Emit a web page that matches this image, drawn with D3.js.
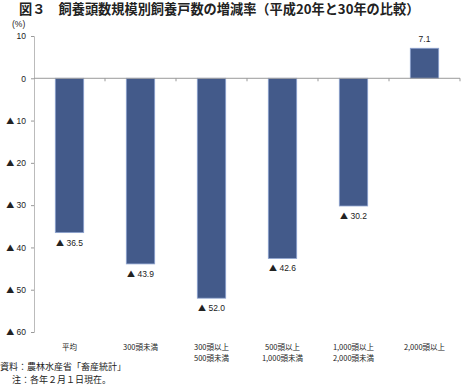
<!DOCTYPE html>
<html>
<head>
<meta charset="utf-8">
<script src="https://cdn.jsdelivr.net/npm/d3@7"></script>
<style>
  body { margin: 0; background: #fff; }
  svg { font-family: "Noto Sans CJK JP", "Noto Sans", sans-serif; }
</style>
</head>
<body>
<div class="chart-container"></div>
<script>
// categories (two lines each) and values (%)
const categories = [
    ['平均'],
    ['300頭未満'],
    ['300頭以上', '500頭未満'],
    ['500頭以上', '1,000頭未満'],
    ['1,000頭以上', '2,000頭未満'],
    ['2,000頭以上']
];
const values = [-36.5, -43.9, -52.0, -42.6, -30.2, 7.1];
const yTicks = [10, 0, -10, -20, -30, -40, -50, -60];

const W = 461, H = 385;
const plot = { left: 34, right: 460, top: 36, bottom: 332 };

const svg = d3.select('.chart-container')
    .append('svg')
    .attr('width', W)
    .attr('height', H);

const numFont = '"Liberation Sans", Arial, sans-serif';
const triFont = '"Noto Sans CJK JP", sans-serif';

const x = d3.scaleBand()
    .domain(d3.range(categories.length))
    .range([plot.left, plot.right])
    .paddingInner(0.6)
    .paddingOuter(0.3);

const y = d3.scaleLinear()
    .domain([-60, 10])
    .range([plot.bottom, plot.top]);

// writes "▲ 36.5" style text: triangle in CJK font, number in sans
function signed(sel, v, digits) {
    const n = digits ? d3.format('.1f')(Math.abs(v)) : String(Math.abs(v));
    if (v < 0) {
        sel.append('tspan').attr('font-family', triFont).attr('font-size', '8px').text('▲');
        sel.append('tspan').attr('font-family', numFont).text(' ' + n);
    } else {
        sel.append('tspan').attr('font-family', numFont).text(n);
    }
}

// title
svg.append('text')
    .attr('x', 19)
    .attr('y', 14)
    .attr('font-size', '13.2px')
    .attr('font-weight', 'bold')
    .attr('fill', '#222')
    .text('図３　飼養頭数規模別飼養戸数の増減率（平成20年と30年の比較）');

svg.append('text')
    .attr('x', 12)
    .attr('y', 27)
    .attr('font-size', '8.5px')
    .attr('fill', '#222')
    .attr('font-family', numFont)
    .text('(%)');

// y axis
const yAxis = svg.append('g')
    .attr('transform', `translate(${plot.left},0)`)
    .call(d3.axisLeft(y).tickValues(yTicks).tickFormat('').tickSize(3));
yAxis.select('.domain').attr('stroke', '#bbb');
yAxis.selectAll('.tick line').attr('stroke', '#999');
yAxis.selectAll('.tick').each(function (v) {
    const t = d3.select(this).append('text')
        .attr('x', -8)
        .attr('dy', '0.32em')
        .attr('text-anchor', 'end')
        .attr('font-size', '8.5px')
        .attr('fill', '#222');
    signed(t, v, false);
});

// bars
svg.selectAll('.bar')
    .data(values)
    .enter().append('rect')
    .attr('class', 'bar')
    .attr('x', (d, i) => x(i))
    .attr('y', d => y(Math.max(0, d)))
    .attr('width', x.bandwidth())
    .attr('height', d => Math.abs(y(d) - y(0)))
    .attr('fill', '#435a8a')
    .attr('stroke', '#8ea3cf')
    .attr('stroke-width', 0.8);

// zero line with ticks between categories
svg.append('line')
    .attr('x1', plot.left).attr('x2', plot.right)
    .attr('y1', y(0)).attr('y2', y(0))
    .attr('stroke', '#999');
svg.selectAll('.ctick')
    .data(d3.range(1, categories.length + 1))
    .enter().append('line')
    .attr('x1', i => plot.left + i * x.step())
    .attr('x2', i => plot.left + i * x.step())
    .attr('y1', y(0)).attr('y2', y(0) + 3)
    .attr('stroke', '#999');

// value labels
svg.selectAll('.val')
    .data(values)
    .enter().append('text')
    .attr('x', (d, i) => x(i) + x.bandwidth() / 2)
    .attr('y', d => d < 0 ? y(d) + 13 : y(d) - 6)
    .attr('text-anchor', 'middle')
    .attr('font-size', '8.5px')
    .attr('fill', '#222')
    .each(function (d) { signed(d3.select(this), d, true); });

// category labels
const cat = svg.selectAll('.cat')
    .data(categories)
    .enter().append('text')
    .attr('x', (d, i) => x(i) + x.bandwidth() / 2)
    .attr('y', 350)
    .attr('font-size', '7.5px')
    .attr('fill', '#222');
cat.selectAll('tspan')
    .data(d => d)
    .enter().append('tspan')
    .attr('x', function () { return this.parentNode.getAttribute('x'); })
    .attr('dy', (d, i) => i === 0 ? 0 : 11)
    .attr('text-anchor', 'middle')
    .text(d => d);

// notes
svg.append('text')
    .attr('x', 0).attr('y', 370)
    .attr('font-size', '9px').attr('fill', '#222')
    .text('資料：農林水産省「畜産統計」');
svg.append('text')
    .attr('x', 12).attr('y', 383)
    .attr('font-size', '9px').attr('fill', '#222')
    .text('注：各年２月１日現在。');
</script>
</body>
</html>
